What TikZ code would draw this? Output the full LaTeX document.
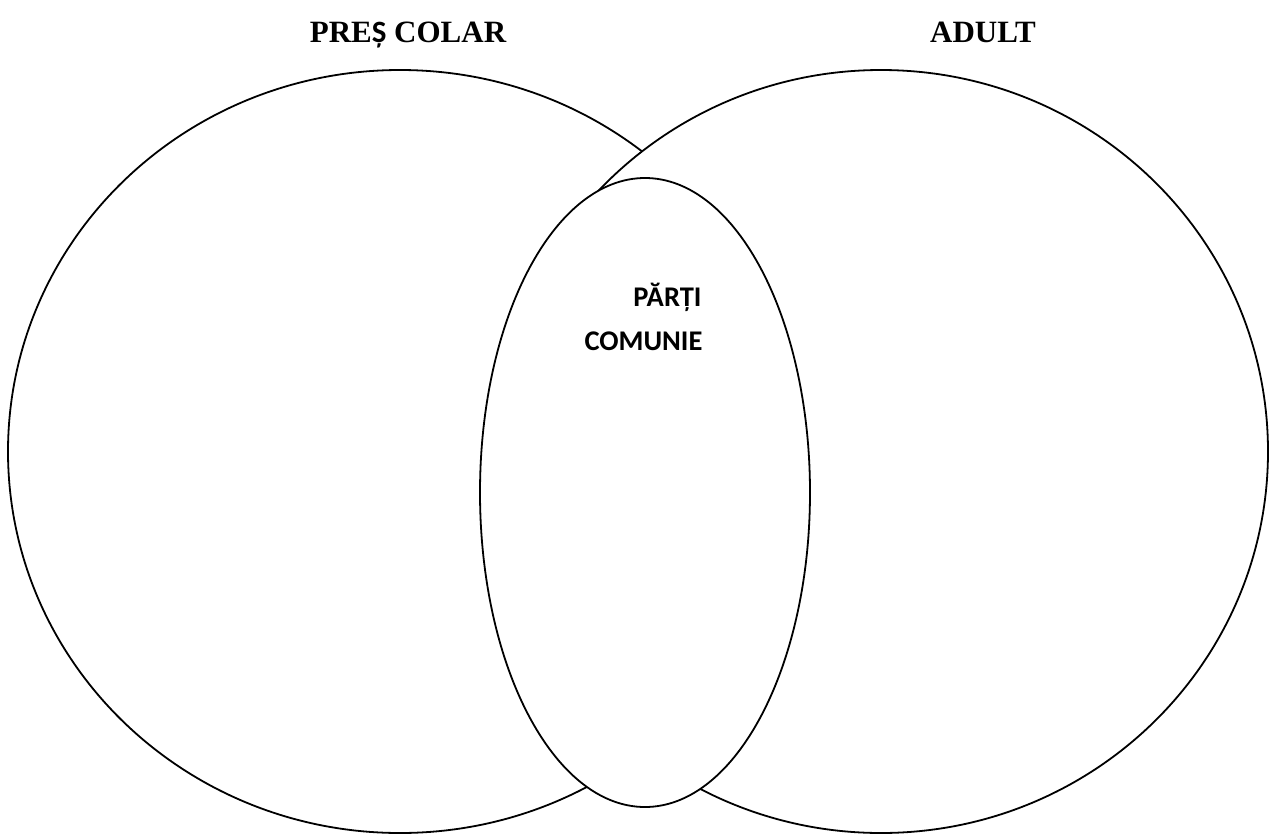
\documentclass[tikz,border=0pt]{standalone}
\usepackage{fontspec}
\setmainfont{Liberation Serif}
\newfontfamily\calibri{Carlito}
\tikzset{
  venn/.style={line width=1.8pt, fill=white},
  title/.style={font=\fontsize{31}{31}\selectfont\bfseries, anchor=base},
  common/.style={font=\calibri\fontsize{28.5}{28.5}\selectfont\bfseries, anchor=base east}
}
\begin{document}
\begin{tikzpicture}[x=1pt, y=-1pt]
\useasboundingbox (0,0) rectangle (1270,836);
% the two sets
\draw[venn] (400,451.5) ellipse [x radius=392pt, y radius=381.5pt];
\draw[venn] (881,451.5) ellipse [x radius=387pt, y radius=381.5pt];
% common part
\draw[venn] (645,492.5) ellipse [x radius=165pt, y radius=314.5pt];

\node[title] (prescolar) at (408,42) {PRE{\calibri Ș} COLAR};
\node[title] (adult) at (983,42) {ADULT};
\node[common] (parti) at (705,306) {PĂRȚI};
\node[common] (comunie) at (706,350) {COMUNIE};
\end{tikzpicture}
\end{document}
